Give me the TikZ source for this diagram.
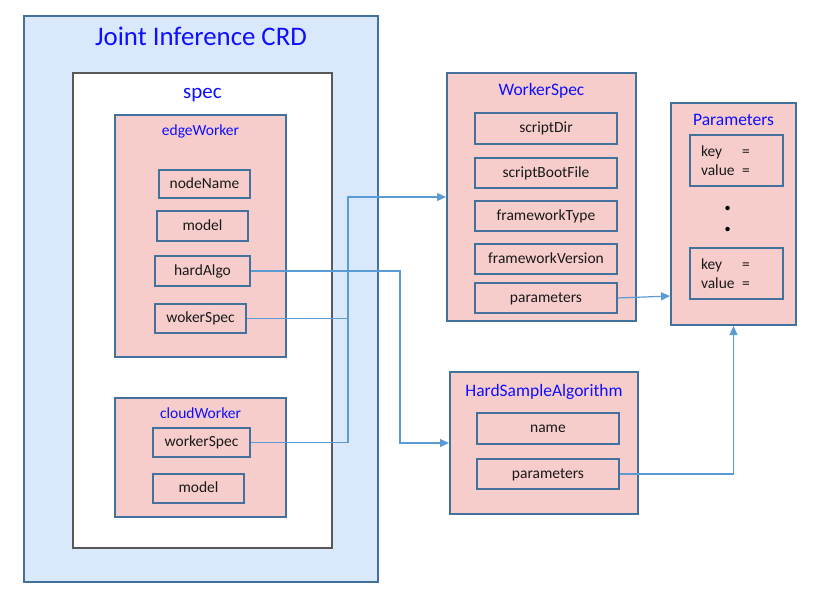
\documentclass[tikz,border=0pt]{standalone}
\usepackage{fontspec}
\setmainfont{Carlito}
\usetikzlibrary{arrows.meta}
\definecolor{bordblue}{HTML}{41719C}
\definecolor{lineblue}{HTML}{5B9BD5}
\definecolor{pinkfill}{HTML}{F6CDCB}
\definecolor{lightblue}{HTML}{DAE8FC}
\definecolor{specgray}{HTML}{595959}
\definecolor{titleblue}{HTML}{0F0FFF}
\tikzset{
  crd/.style={draw=bordblue, line width=2pt, fill=lightblue, inner sep=0pt},
  specbox/.style={draw=specgray, line width=2.2pt, fill=white, inner sep=0pt},
  group/.style={draw=bordblue, line width=2pt, fill=pinkfill, inner sep=0pt},
  field/.style={draw=bordblue, line width=1.2pt, fill=pinkfill, inner sep=0pt,
    font=\fontsize{15.5}{19}\selectfont, text=black!90, text height=10pt, text depth=2pt},
  kvbox/.style={draw=bordblue, line width=1.2pt, fill=pinkfill, inner sep=0pt,
    font=\fontsize{15.5}{19}\selectfont, text=black!90, text width=71pt, align=left},
  ttl/.style={text=titleblue, inner sep=0pt, anchor=base},
  conn/.style={draw=lineblue, line width=1.2pt},
  arr/.style={conn, -{Triangle[length=9pt,width=8pt]}},
  dotn/.style={circle, fill=black, inner sep=0pt, minimum size=4.5pt}
}
\newcommand\kvtext{\makebox[41pt][l]{key}=\\\makebox[41pt][l]{value}=}
\begin{document}
\begin{tikzpicture}[x=1pt,y=-1pt]
\useasboundingbox (0,0) rectangle (814,613);
% containers
\node[crd, minimum width=354pt, minimum height=566pt] (crd) at (201,299) {};
\node[ttl, font=\fontsize{26.8}{30}\selectfont] (crdt) at (201,45.5) {Joint Inference CRD};
\node[specbox, minimum width=259pt, minimum height=475pt] (spec) at (202.5,310.5) {};
\node[ttl, font=\fontsize{21}{25}\selectfont] (spect) at (202.5,98.5) {spec};
% edgeWorker
\node[group, minimum width=171pt, minimum height=242pt] (ew) at (200.5,236) {};
\node[ttl, font=\fontsize{15.5}{18}\selectfont] (ewt) at (200.5,135) {edgeWorker};
\node[field, minimum width=91pt, minimum height=28pt] (nn) at (204.5,184) {nodeName};
\node[field, minimum width=91pt, minimum height=30pt] (m1) at (202.5,226) {model};
\node[field, minimum width=95pt, minimum height=30pt] (ha) at (202.5,271) {hardAlgo};
\node[field, minimum width=91pt, minimum height=29pt] (wk) at (200.5,318.5) {wokerSpec};
% cloudWorker
\node[group, minimum width=171pt, minimum height=119pt] (cw) at (200.5,457.5) {};
\node[ttl, font=\fontsize{15.5}{18}\selectfont] (cwt) at (200.5,418.3) {cloudWorker};
\node[field, minimum width=97pt, minimum height=29pt] (ws2) at (201.5,442.5) {workerSpec};
\node[field, minimum width=91pt, minimum height=29pt] (m2) at (198.5,488.5) {model};
% WorkerSpec
\node[group, minimum width=189pt, minimum height=248pt] (ws) at (541.5,197) {};
\node[ttl, font=\fontsize{17.5}{20}\selectfont] (wst) at (541.5,95) {WorkerSpec};
\node[field, minimum width=142pt, minimum height=31pt] (sd) at (546,128.5) {scriptDir};
\node[field, minimum width=142pt, minimum height=30pt] (sb) at (546,173) {scriptBootFile};
\node[field, minimum width=142pt, minimum height=30pt] (ft) at (546,216) {frameworkType};
\node[field, minimum width=142pt, minimum height=30pt] (fv) at (546,259) {frameworkVersion};
\node[field, minimum width=142pt, minimum height=30pt] (wsp) at (546,298) {parameters};
% Parameters
\node[group, minimum width=125pt, minimum height=222pt] (prm) at (733.5,214) {};
\node[ttl, font=\fontsize{17.5}{20}\selectfont] (prmt) at (733.5,125.7) {Parameters};
\node[kvbox, minimum width=93pt, minimum height=51pt] (kv1) at (736.5,160.5) {\kvtext};
\node[dotn] (d1) at (727.5,208) {};
\node[dotn] (d2) at (727.5,229) {};
\node[kvbox, minimum width=93pt, minimum height=51pt] (kv2) at (736.5,273.5) {\kvtext};
% HardSampleAlgorithm
\node[group, minimum width=188pt, minimum height=142pt] (hsa) at (544,443) {};
\node[ttl, font=\fontsize{17.5}{20}\selectfont] (hsat) at (544,396) {HardSampleAlgorithm};
\node[field, minimum width=142pt, minimum height=31pt] (hn) at (548,428.5) {name};
\node[field, minimum width=142pt, minimum height=30pt] (hp) at (548,474) {parameters};
% connectors
\coordinate (j1) at (348,197);
\coordinate (j2) at (400,271);
\draw[arr] (wk.east) -| (j1) -- (ws.west);
\draw[conn] (ws2.east) -| (j1);
\draw[arr] (ha.east) -- (j2) |- (hsa.west);
\draw[arr] (wsp.east) -- ([yshift=-82pt]prm.west);
\draw[arr] (hp.east) -| (prm.south);
\end{tikzpicture}
\end{document}
